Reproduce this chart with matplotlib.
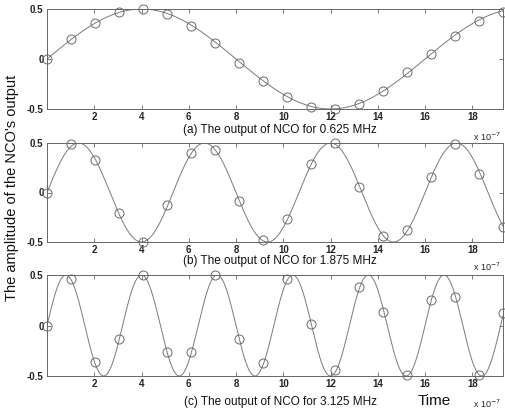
import numpy as np
import matplotlib
matplotlib.use('Agg')
import matplotlib.pyplot as plt

plt.rcParams['font.family'] = ['Liberation Sans', 'DejaVu Sans']

# sample times (x 1e-7 s) and NCO output samples
t_samples = [0, 1.02, 2.03, 3.05, 4.06, 5.08, 6.09, 7.11, 8.13, 9.14,
             10.16, 11.17, 12.19, 13.21, 14.22, 15.24, 16.25, 17.27, 18.28, 19.3]
out_a = [0, 0.2, 0.36, 0.47, 0.5, 0.45, 0.33, 0.16, -0.04, -0.22,
         -0.38, -0.48, -0.5, -0.45, -0.32, -0.13, 0.05, 0.23, 0.38, 0.47]
out_b = [0, 0.49, 0.33, -0.21, -0.5, -0.13, 0.4, 0.43, -0.09, -0.48,
         -0.27, 0.29, 0.5, 0.06, -0.44, -0.38, 0.16, 0.49, 0.19, -0.35]
out_c = [0, 0.46, -0.36, -0.13, 0.5, -0.26, -0.26, 0.5, -0.13, -0.37,
         0.46, 0.01, -0.44, 0.38, 0.13, -0.49, 0.25, 0.28, -0.49, 0.12]
freqs_mhz = [0.625, 1.875, 3.125]
captions = ['(a) The output of NCO for 0.625 MHz',
            '(b) The output of NCO for 1.875 MHz',
            '(c) The output of NCO for 3.125 MHz']
amp = 0.5
x_ticks = [2, 4, 6, 8, 10, 12, 14, 16, 18]
y_ticks = [-0.5, 0, 0.5]
y_ticklabels = ['-0.5', '0', '0.5']

fig = plt.figure(figsize=(5.06, 4.13), dpi=100)
W, H = 506, 413
boxes = [(9, 109), (143, 242), (275, 376)]
cap_y = [130, 261, 402]
exp_y = [137, 267, 404]

t_line = np.linspace(0, 19.3, 800)
line_col = '#7a7a7a'
for i, samples in enumerate([out_a, out_b, out_c]):
    top, bot = boxes[i]
    ax = fig.add_axes([47 / W, 1 - bot / H, 456 / W, (bot - top) / H])
    # ideal sine at the NCO frequency (t in 1e-7 s, f in MHz)
    ax.plot(t_line, amp * np.sin(2 * np.pi * freqs_mhz[i] * t_line * 0.1),
            color=line_col, lw=0.7)
    ax.plot(t_samples, samples, ls='none', marker='o', ms=6.5, mfc='none',
            mec='#6a6a6a', mew=0.7, clip_on=False)
    ax.set_xlim(0, 19.3)
    ax.set_ylim(-0.5, 0.5)
    ax.set_xticks(x_ticks)
    ax.set_yticks(y_ticks)
    ax.set_yticklabels(y_ticklabels)
    ax.tick_params(direction='in', top=True, right=True, length=3,
                   width=0.6, color='#666666', labelsize=7, pad=2.5)
    for lab in ax.get_xticklabels() + ax.get_yticklabels():
        lab.set_fontweight('bold')
        lab.set_color('#222222')
    for sp in ax.spines.values():
        sp.set_color('#666666')
        sp.set_linewidth(0.7)
    fig.text(280 / W, 1 - cap_y[i] / H, captions[i], ha='center', va='center',
             fontsize=8.5, color='#111111')
    fig.text(487 / W, 1 - exp_y[i] / H, r'x 10$^{-7}$', ha='center', va='center',
             fontsize=6.5, color='#222222')

fig.text(12 / W, 1 - 188 / H, "The amplitude of the NCO's output", rotation=90,
         ha='center', va='center', fontsize=10.5, color='#111111')
fig.text(434 / W, 1 - 401 / H, 'Time', ha='center', va='center',
         fontsize=11, color='#111111')

fig.savefig('out.png', dpi=100)
